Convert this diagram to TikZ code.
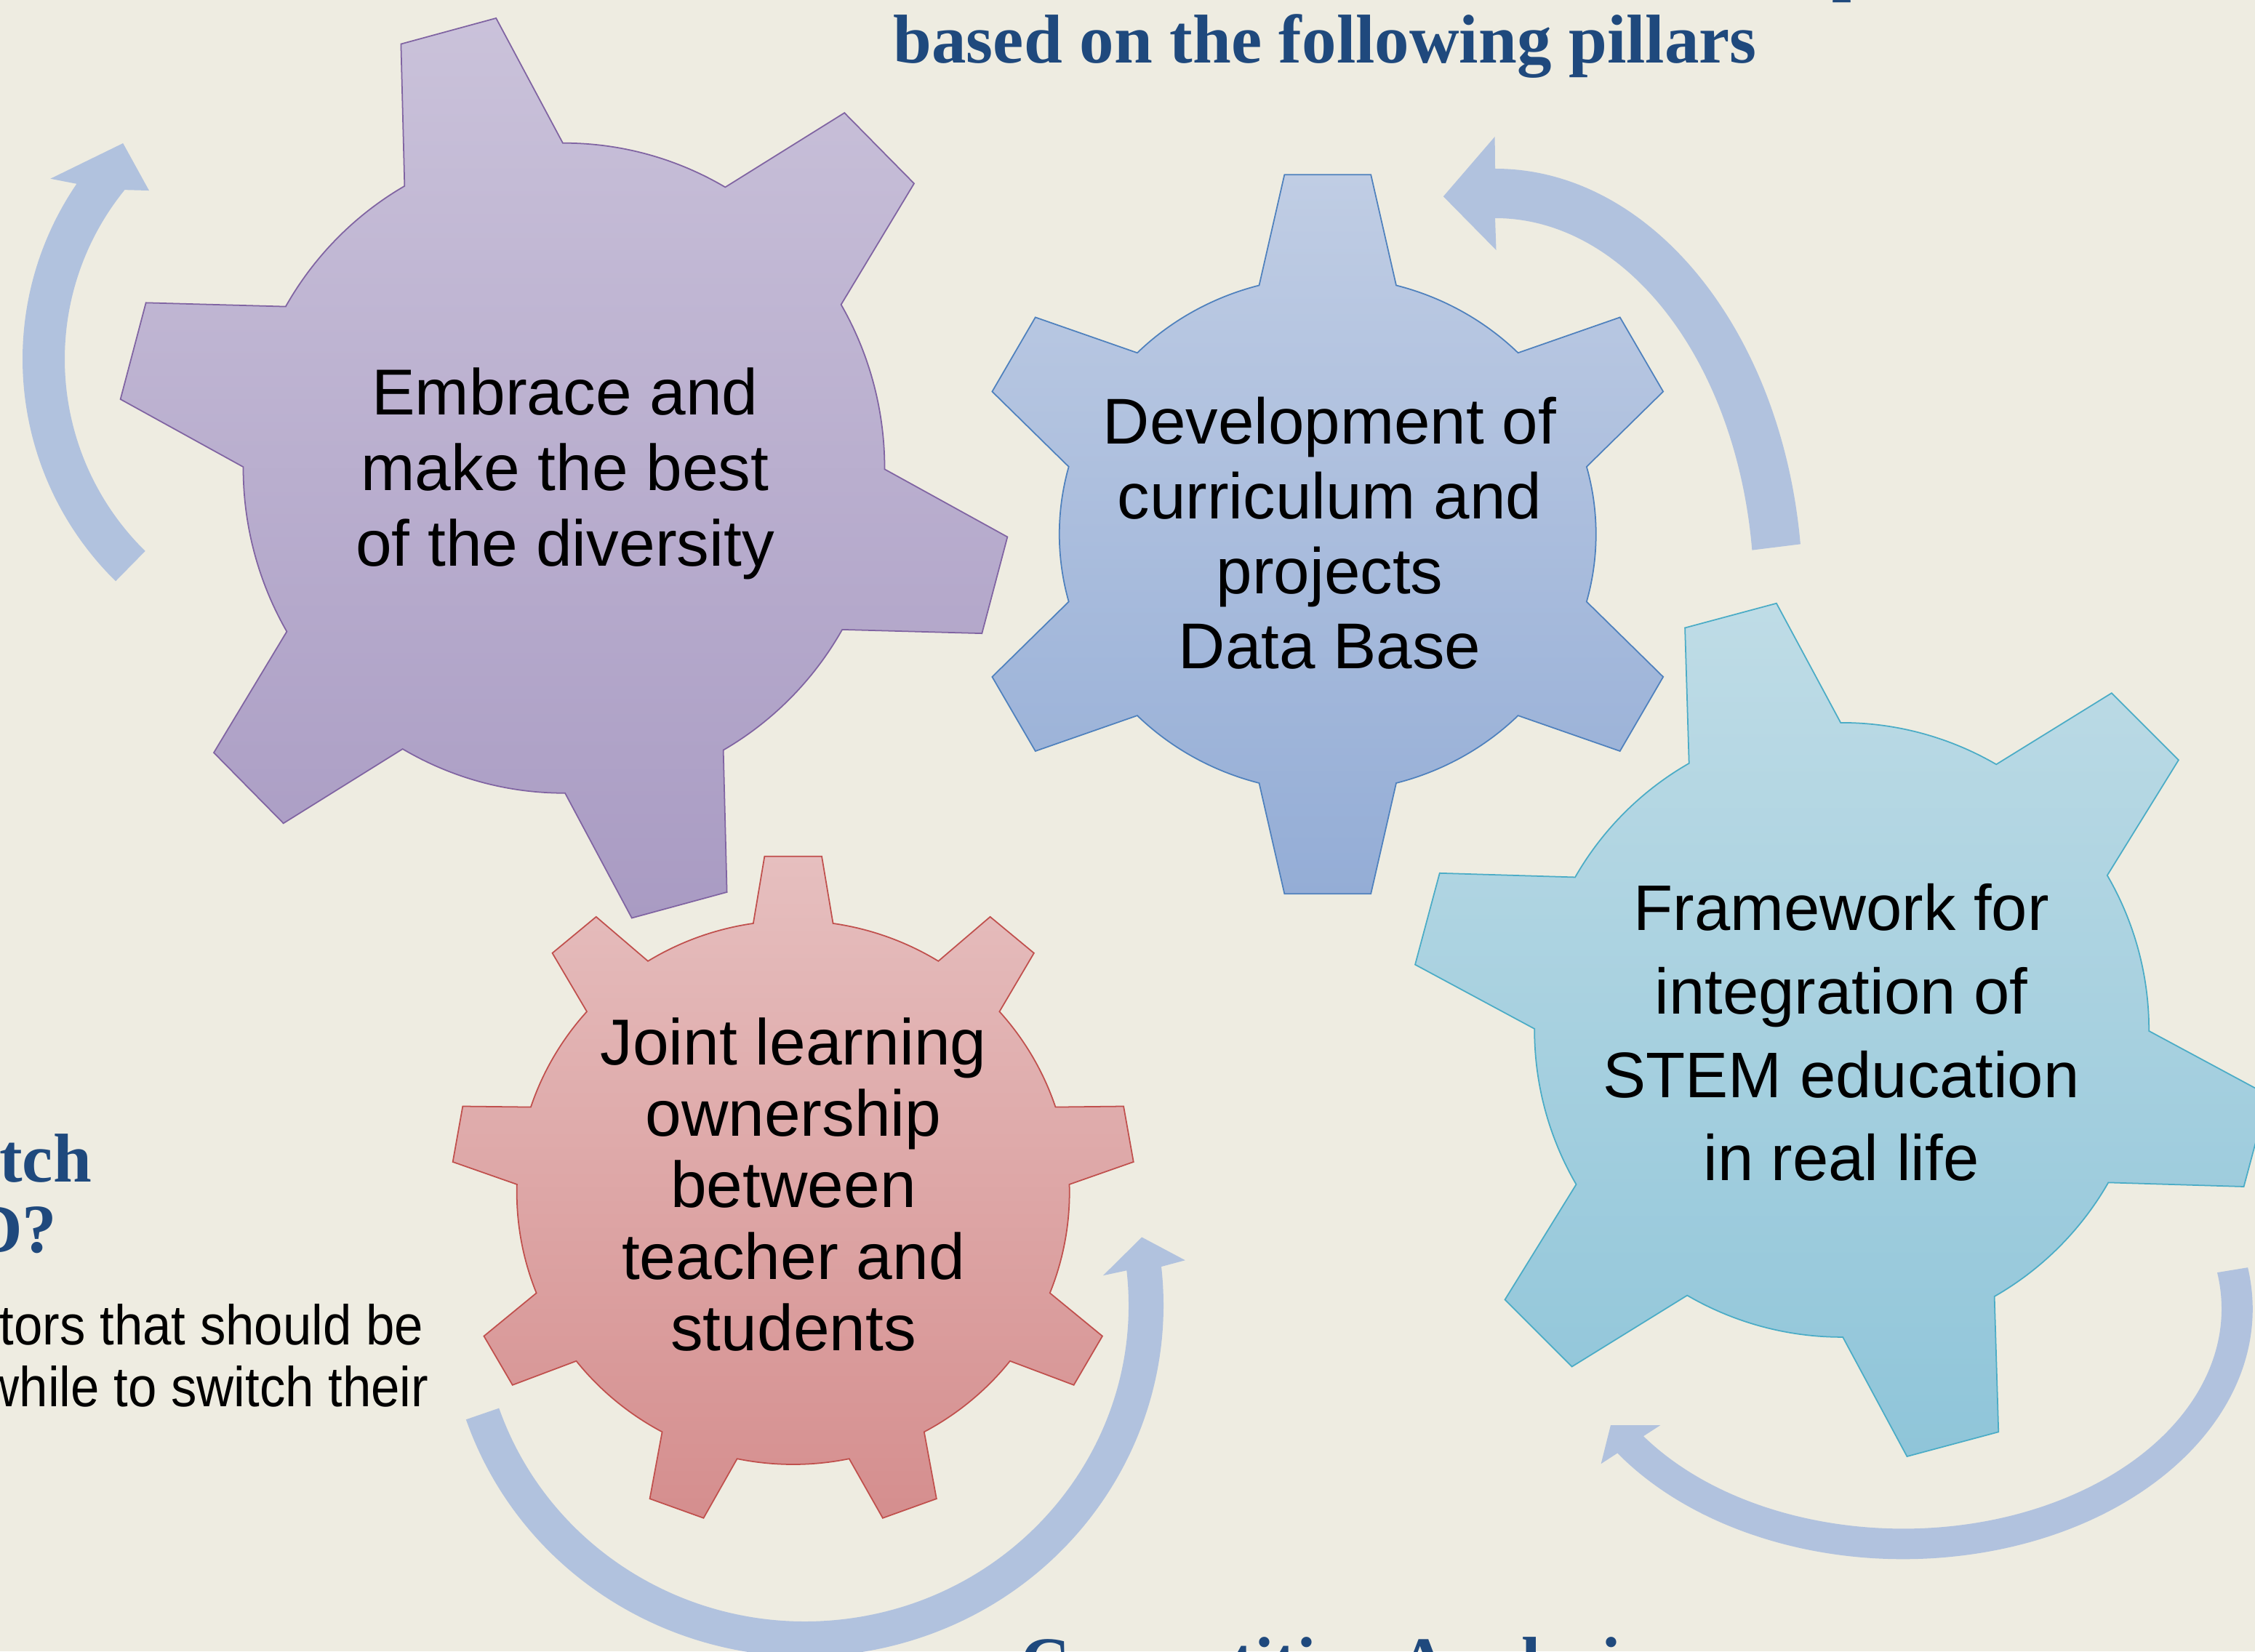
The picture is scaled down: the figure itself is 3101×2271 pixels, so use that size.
\documentclass[tikz,border=0pt]{standalone}
\usepackage{fontspec}
\setmainfont{Liberation Sans}
\newfontfamily\titlefont{Liberation Serif}
\newfontfamily\bodyfont[FakeStretch=0.915]{Liberation Sans}
\definecolor{bgcol}{HTML}{EEECE1}
\definecolor{titleblue}{HTML}{1F497D}
\definecolor{arrowcol}{HTML}{B1C2DE}
\definecolor{purpleTop}{HTML}{CAC2DA}
\definecolor{purpleBot}{HTML}{A99BC3}
\definecolor{purpleLine}{HTML}{8064A2}
\definecolor{blueTop}{HTML}{C0CDE4}
\definecolor{blueBot}{HTML}{94ADD6}
\definecolor{blueLine}{HTML}{4F81BD}
\definecolor{aquaTop}{HTML}{BFDCE6}
\definecolor{aquaBot}{HTML}{8FC5D9}
\definecolor{aquaLine}{HTML}{4BACC6}
\definecolor{redTop}{HTML}{E6BFBF}
\definecolor{redBot}{HTML}{D58E8E}
\definecolor{redLine}{HTML}{C0504D}
\tikzset{
  purplegear/.style={draw=purpleLine, line width=0.5pt, top color=purpleTop, bottom color=purpleBot},
  bluegear/.style={draw=blueLine, line width=0.5pt, top color=blueTop, bottom color=blueBot},
  aquagear/.style={draw=aquaLine, line width=0.5pt, top color=aquaTop, bottom color=aquaBot},
  redgear/.style={draw=redLine, line width=0.5pt, top color=redTop, bottom color=redBot},
  cyclearrow/.style={fill=arrowcol, draw=none},
  geartext/.style={align=center, inner sep=0pt, text=black},
  headline/.style={inner sep=0pt, text=titleblue, font=\titlefont\bfseries\fontsize{27}{32}\selectfont},
  bodytext/.style={inner sep=0pt, text=black, font=\bodyfont\fontsize{22}{26}\selectfont},
}
% #1 teeth, #2 first tooth angle, #3 root rx, #4 root ry, #5 tip rx, #6 tip ry,
% #7 root half angle, #8 tip half angle, #9 style
\newcommand\gearoutline[9]{%
  \pgfmathsetmacro\gstep{360/#1}%
  \pgfmathtruncatemacro\glast{#1-1}%
  \path[#9] ({#2-#7}:#3 and #4)
    \foreach \k in {0,...,\glast}{
      -- ({#2+\k*\gstep-#8}:#5 and #6)
      -- ({#2+\k*\gstep+#8}:#5 and #6)
      -- ({#2+\k*\gstep+#7}:#3 and #4)
      arc[start angle={#2+\k*\gstep+#7}, end angle={#2+(\k+1)*\gstep-#7}, x radius=#3, y radius=#4]
    } -- cycle;%
}
\begin{document}
\begin{tikzpicture}[x=0.01cm, y=0.01cm]
\useasboundingbox (0,0) rectangle (3101,2271);
\fill[bgcol] (0,0) rectangle (3101,2271);
\clip (0,0) rectangle (3101,2271);

\coordinate (gPurple) at (775.5,1627.25);
\coordinate (gBlue) at (1825.75,1536.3);
\coordinate (gAqua) at (2532.65,854.6);
\coordinate (gRed) at (1090.7,631);
\coordinate (aLeft) at (459,1777);
\coordinate (aTop) at (2056,1451);
\coordinate (aRight) at (2617,471);
\coordinate (aBottom) at (1107,476);

% circular arrows
\begin{scope}[shift={(aLeft)}]
\path[cyclearrow] (225.5:428) arc[start angle=225.5, end angle=145.7, radius=428]
  -- (147.5:462) -- (134.3:415) -- (137.6:344) -- (141:370)
  arc[start angle=141, end angle=225.5, radius=370] -- cycle;
\end{scope}
\begin{scope}[shift={(aTop)}]
\path[cyclearrow] (7:423 and 588) arc[start angle=7, end angle=90, x radius=423, y radius=588]
  -- (-0.4,632) -- (-71.2,549.8) -- (1.5,476) -- (90:356 and 520)
  arc[start angle=90, end angle=7, x radius=356, y radius=520] -- cycle;
\end{scope}
\begin{scope}[shift={(aRight)}]
\path[cyclearrow] (9.5:480.7 and 344.3) arc[start angle=9.5, end angle=-144.8, x radius=480.7, y radius=344.3]
  -- (-415.4,-213.2) -- (-402.1,-160) -- (-333.6,-160) -- (-144.6:438 and 302.4)
  arc[start angle=-144.6, end angle=9.5, x radius=438, y radius=302.4] -- cycle;
\end{scope}
\begin{scope}[shift={(aBottom)}]
\path[cyclearrow] (199:493 and 483) arc[start angle=199, end angle=366.3, x radius=493, y radius=483]
  -- (522.8,61.8) -- (463.2,93.5) -- (409.9,40.8) -- (366.3:445 and 435)
  arc[start angle=366.3, end angle=199, x radius=445, y radius=435] -- cycle;
\end{scope}

% gears
\begin{scope}[shift={(gPurple)}]
\gearoutline{6}{105}{441}{447}{617}{626}{14.8}{6.3}{purplegear}
\end{scope}
\begin{scope}[shift={(gBlue)}]
\gearoutline{6}{90}{369}{354}{502}{498}{14.8}{6.8}{bluegear}
\end{scope}
\begin{scope}[shift={(gAqua)}]
\gearoutline{6}{105}{422.5}{422.5}{593.5}{593.5}{14.8}{6.3}{aquagear}
\end{scope}
\begin{scope}[shift={(gRed)}]
\gearoutline{9}{90}{380}{374}{470}{464}{8.3}{4.8}{redgear}
\end{scope}

% gear labels
\node[geartext, font=\fontsize{25.4}{29.49}\selectfont] (tEmbrace) at (777,1619.6)
  {Embrace and\\make the best\\of the diversity};
\node[geartext, font=\fontsize{25.3}{29.32}\selectfont] (tDevelop) at (1828.5,1537.5)
  {Development of\\curriculum and\\projects\\Data Base};
\node[geartext, font=\fontsize{25.2}{32.63}\selectfont] (tFramework) at (2532,851)
  {Framework for\\integration of\\STEM education\\in real life};
\node[geartext, font=\fontsize{25.4}{27.96}\selectfont] (tJoint) at (1091,642)
  {Joint learning\\ownership\\between\\teacher and\\students};

% headings (cut by the frame)
\node[headline, anchor=base west] (title) at (1228,2184) {based on the following pillars};
\node[headline, anchor=base west] (titleAbove) at (2519,2287) {p};
\node[headline, anchor=base west] (compet) at (1403,-46) {Competitive Analysis};
\node[headline, anchor=base east] (switchA) at (126.5,646) {tch};
\node[headline, anchor=base east] (switchB) at (78.8,549) {D?};

% body text (cut by the frame)
\node[bodytext, anchor=base east] (bodyA) at (583,422) {tors that should be};
\node[bodytext, anchor=base east] (bodyB) at (590,337) {while to switch their};
\end{tikzpicture}
\end{document}
